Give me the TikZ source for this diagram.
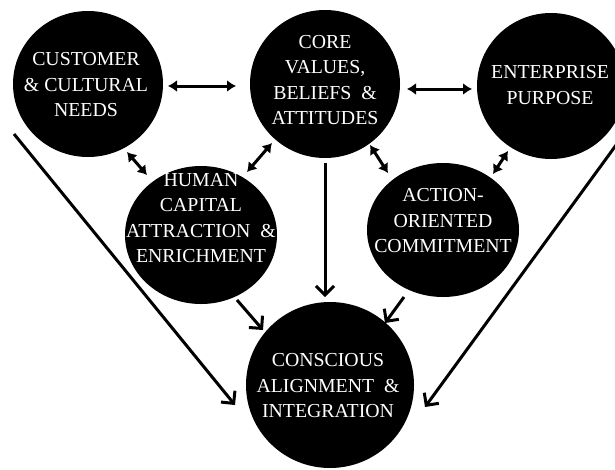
\documentclass[tikz,border=0pt]{standalone}
\usepackage{fontspec}
\setmainfont{Liberation Serif}
\usetikzlibrary{shapes.geometric,arrows.meta,calc}
\begin{document}
\begin{tikzpicture}[x=1pt,y=-1pt,
  bubble/.style={ellipse,fill=black,draw=none,inner sep=0pt},
  lbl/.style={text=white,align=center,font=\fontsize{19.8pt}{25.5pt}\selectfont,inner sep=0pt},
  dbl/.style={line width=3pt,{Latex[length=9pt,width=12pt]}-{Latex[length=9pt,width=12pt]}},
  flow/.style={line width=3pt,-{Straight Barb[length=9pt,width=18pt]}}]
\useasboundingbox (0,0) rectangle (615,469);
\clip (0,0) rectangle (615,469);
\fill[white] (0,0) rectangle (615,469);
% circles
\node[bubble,minimum width=150pt,minimum height=146pt] (cust) at (88,84) {};
\node[bubble,minimum width=150pt,minimum height=148pt] (core) at (325,84) {};
\node[bubble,minimum width=148pt,minimum height=146pt] (ent) at (551,86) {};
\node[bubble,minimum width=152pt,minimum height=138pt] (human) at (201,235) {};
\node[bubble,minimum width=152pt,minimum height=134pt] (action) at (443,230) {};
\node[bubble,minimum width=168pt,minimum height=166pt] (consc) at (330,385) {};
% labels
\node[lbl] (custt) at (86,85) {CUSTOMER\\\& CULTURAL\\NEEDS};
\node[lbl] (coret) at (325,80) {CORE\\VALUES,\\BELIEFS\ \ \&\\ATTITUDES};
\node[lbl] (entt) at (550,85) {ENTERPRISE\\PURPOSE};
\node[lbl] (humant) at (201,218) {HUMAN\\CAPITAL\\ATTRACTION\ \ \&\\ENRICHMENT};
\node[lbl] (actiont) at (443,221) {ACTION-\\ORIENTED\\COMMITMENT};
\node[lbl] (consct) at (328,386) {CONSCIOUS\\ALIGNMENT\ \ \&\\INTEGRATION};
% two-way connectors
\draw[dbl] ($(cust)+(80,2)$) -- ($(core)+(-89,2)$);
\draw[dbl] ($(core)+(82,5)$) -- ($(ent)+(-79,3)$);
\draw[dbl] ($(cust)+(39,68)$) -- ($(human)+(-54,-60)$);
\draw[dbl] ($(core)+(-53,59)$) -- ($(human)+(46,-63)$);
\draw[dbl] ($(core)+(45,61)$) -- ($(action)+(-55,-57)$);
\draw[dbl] ($(ent)+(-43,65)$) -- ($(action)+(50,-56)$);
% converging arrows
\draw[flow] ($(core)+(0,79)$) -- ($(consc)+(-5,-88)$);
\draw[flow] ($(human)+(36,65)$) -- ($(consc)+(-67,-55)$);
\draw[flow] ($(action)+(-39,67)$) -- ($(consc)+(55,-62)$);
\draw[flow] ($(cust)+(-74,50)$) -- ($(consc)+(-95,20)$);
\draw[flow] ($(ent)+(79,40)$) -- ($(consc)+(95,22)$);
\end{tikzpicture}
\end{document}
